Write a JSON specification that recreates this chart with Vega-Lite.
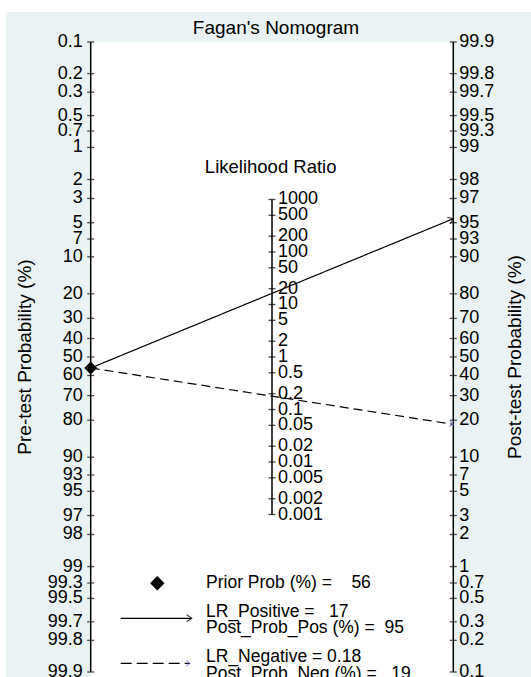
{
  "$schema": "https://vega.github.io/schema/vega-lite/v6.json",
  "width": 525,
  "height": 665,
  "padding": {"left": 6, "top": 12, "right": 0, "bottom": 0},
  "autosize": {"type": "none"},
  "background": "white",
  "config": {
    "view": {"fill": "#eaf2f3", "stroke": null},
    "text": {"font": "Liberation Sans", "color": "black"}
  },
  "datasets": {
    "ticks": [
      {"scale": "pre", "value": 0.1}, {"scale": "pre", "value": 0.2}, {"scale": "pre", "value": 0.3}, {"scale": "pre", "value": 0.5}, {"scale": "pre", "value": 0.7},
      {"scale": "pre", "value": 1}, {"scale": "pre", "value": 2}, {"scale": "pre", "value": 3}, {"scale": "pre", "value": 5}, {"scale": "pre", "value": 7},
      {"scale": "pre", "value": 10}, {"scale": "pre", "value": 20}, {"scale": "pre", "value": 30}, {"scale": "pre", "value": 40}, {"scale": "pre", "value": 50},
      {"scale": "pre", "value": 60}, {"scale": "pre", "value": 70}, {"scale": "pre", "value": 80}, {"scale": "pre", "value": 90}, {"scale": "pre", "value": 93},
      {"scale": "pre", "value": 95}, {"scale": "pre", "value": 97}, {"scale": "pre", "value": 98}, {"scale": "pre", "value": 99}, {"scale": "pre", "value": 99.3},
      {"scale": "pre", "value": 99.5}, {"scale": "pre", "value": 99.7}, {"scale": "pre", "value": 99.8}, {"scale": "pre", "value": 99.9},
      {"scale": "post", "value": 0.1}, {"scale": "post", "value": 0.2}, {"scale": "post", "value": 0.3}, {"scale": "post", "value": 0.5}, {"scale": "post", "value": 0.7},
      {"scale": "post", "value": 1}, {"scale": "post", "value": 2}, {"scale": "post", "value": 3}, {"scale": "post", "value": 5}, {"scale": "post", "value": 7},
      {"scale": "post", "value": 10}, {"scale": "post", "value": 20}, {"scale": "post", "value": 30}, {"scale": "post", "value": 40}, {"scale": "post", "value": 50},
      {"scale": "post", "value": 60}, {"scale": "post", "value": 70}, {"scale": "post", "value": 80}, {"scale": "post", "value": 90}, {"scale": "post", "value": 93},
      {"scale": "post", "value": 95}, {"scale": "post", "value": 97}, {"scale": "post", "value": 98}, {"scale": "post", "value": 99}, {"scale": "post", "value": 99.3},
      {"scale": "post", "value": 99.5}, {"scale": "post", "value": 99.7}, {"scale": "post", "value": 99.8}, {"scale": "post", "value": 99.9},
      {"scale": "LR", "value": 0.001}, {"scale": "LR", "value": 0.002}, {"scale": "LR", "value": 0.005}, {"scale": "LR", "value": 0.01}, {"scale": "LR", "value": 0.02},
      {"scale": "LR", "value": 0.05}, {"scale": "LR", "value": 0.1}, {"scale": "LR", "value": 0.2}, {"scale": "LR", "value": 0.5}, {"scale": "LR", "value": 1},
      {"scale": "LR", "value": 2}, {"scale": "LR", "value": 5}, {"scale": "LR", "value": 10}, {"scale": "LR", "value": 20}, {"scale": "LR", "value": 50},
      {"scale": "LR", "value": 100}, {"scale": "LR", "value": 200}, {"scale": "LR", "value": 500}, {"scale": "LR", "value": 1000}
    ],
    "lines": [
      {"test": "positive", "scale": "pre", "value": 56},
      {"test": "positive", "scale": "post", "value": 95.4},
      {"test": "negative", "scale": "pre", "value": 56},
      {"test": "negative", "scale": "post", "value": 18.6}
    ],
    "legend": [
      {"item": "prior", "text": "Prior Prob (%) =\u00a0\u00a0\u00a0\u00a056"},
      {"item": "pos", "text": "LR_Positive =\u00a0\u00a0\u00a017\nPost_Prob_Pos (%) =\u00a0\u00a095"},
      {"item": "neg", "text": "LR_Negative =\u00a00.18\nPost_Prob_Neg (%) =\u00a0\u00a0\u00a019"}
    ]
  },
  "layer": [
    {
      "data": {"values": [{"region": "plot"}]},
      "mark": {"type": "rect", "fill": "white"},
      "encoding": {
        "x": {"datum": 0, "type": "quantitative", "scale": {"domain": [-0.2336, 1.2143], "nice": false, "zero": false}, "axis": null},
        "x2": {"datum": 1},
        "y": {"datum": 6.9068, "type": "quantitative", "scale": {"domain": [-7.0165, 7.5646], "nice": false, "zero": false}, "axis": null},
        "y2": {"datum": -7.0165}
      }
    },
    {
      "data": {"name": "ticks"},
      "transform": [
        {"calculate": "datum.scale === 'pre' ? 0 : datum.scale === 'post' ? 1 : 0.5", "as": "t"},
        {"calculate": "datum.scale === 'pre' ? log((100 - datum.value) / datum.value) : datum.scale === 'post' ? log(datum.value / (100 - datum.value)) : log(datum.value) / 2", "as": "v"},
        {"aggregate": [{"op": "min", "field": "v", "as": "vmin"}, {"op": "max", "field": "v", "as": "vmax"}], "groupby": ["scale", "t"]}
      ],
      "mark": {"type": "rule", "color": "black", "strokeWidth": 1.5},
      "encoding": {
        "x": {"field": "t", "type": "quantitative", "scale": {"domain": [-0.2336, 1.2143], "nice": false, "zero": false}, "axis": null},
        "y": {"field": "vmin", "type": "quantitative", "scale": {"domain": [-7.0165, 7.5646], "nice": false, "zero": false}, "axis": null},
        "y2": {"field": "vmax"}
      }
    },
    {
      "data": {"name": "ticks"},
      "transform": [
        {"calculate": "datum.scale === 'pre' ? 0 : datum.scale === 'post' ? 1 : 0.5", "as": "t"},
        {"calculate": "datum.scale === 'pre' ? log((100 - datum.value) / datum.value) : datum.scale === 'post' ? log(datum.value / (100 - datum.value)) : log(datum.value) / 2", "as": "v"}
      ],
      "mark": {"type": "tick", "orient": "horizontal", "size": 7, "thickness": 1.3, "color": "black"},
      "encoding": {
        "x": {"field": "t", "type": "quantitative", "scale": {"domain": [-0.2336, 1.2143], "nice": false, "zero": false}, "axis": null},
        "y": {"field": "v", "type": "quantitative", "scale": {"domain": [-7.0165, 7.5646], "nice": false, "zero": false}, "axis": null}
      }
    },
    {
      "data": {"name": "ticks"},
      "transform": [
        {"filter": "datum.scale === 'pre'"},
        {"calculate": "0", "as": "t"},
        {"calculate": "log((100 - datum.value) / datum.value)", "as": "v"}
      ],
      "mark": {"type": "text", "align": "right", "baseline": "middle", "dx": -8, "fontSize": 18},
      "encoding": {
        "x": {"field": "t", "type": "quantitative", "scale": {"domain": [-0.2336, 1.2143], "nice": false, "zero": false}, "axis": null},
        "y": {"field": "v", "type": "quantitative", "scale": {"domain": [-7.0165, 7.5646], "nice": false, "zero": false}, "axis": null},
        "text": {"field": "value", "type": "nominal"}
      }
    },
    {
      "data": {"name": "ticks"},
      "transform": [
        {"filter": "datum.scale !== 'pre'"},
        {"calculate": "datum.scale === 'post' ? 1 : 0.5", "as": "t"},
        {"calculate": "datum.scale === 'post' ? log(datum.value / (100 - datum.value)) : log(datum.value) / 2", "as": "v"}
      ],
      "mark": {"type": "text", "align": "left", "baseline": "middle", "dx": 6, "fontSize": 18},
      "encoding": {
        "x": {"field": "t", "type": "quantitative", "scale": {"domain": [-0.2336, 1.2143], "nice": false, "zero": false}, "axis": null},
        "y": {"field": "v", "type": "quantitative", "scale": {"domain": [-7.0165, 7.5646], "nice": false, "zero": false}, "axis": null},
        "text": {"field": "value", "type": "nominal"}
      }
    },
    {
      "data": {"name": "lines"},
      "transform": [
        {"calculate": "datum.scale === 'pre' ? 0 : 1", "as": "t"},
        {"calculate": "datum.scale === 'pre' ? log((100 - datum.value) / datum.value) : log(datum.value / (100 - datum.value))", "as": "v"}
      ],
      "mark": {"type": "line", "color": "black", "strokeWidth": 1.2},
      "encoding": {
        "x": {"field": "t", "type": "quantitative", "scale": {"domain": [-0.2336, 1.2143], "nice": false, "zero": false}, "axis": null},
        "y": {"field": "v", "type": "quantitative", "scale": {"domain": [-7.0165, 7.5646], "nice": false, "zero": false}, "axis": null},
        "strokeDash": {"field": "test", "type": "nominal", "scale": {"domain": ["positive", "negative"], "range": [[1, 0], [9, 5]]}, "legend": null}
      }
    },
    {
      "data": {"name": "lines"},
      "transform": [
        {"filter": "datum.test === 'positive' && datum.scale === 'post'"},
        {"calculate": "1", "as": "t"},
        {"calculate": "log(datum.value / (100 - datum.value))", "as": "v"}
      ],
      "mark": {"type": "point", "shape": "M-1,-0.7L0,0L-1,0.7", "filled": false, "stroke": "black", "strokeWidth": 1.2, "size": 100, "angle": -22.4},
      "encoding": {
        "x": {"field": "t", "type": "quantitative", "scale": {"domain": [-0.2336, 1.2143], "nice": false, "zero": false}, "axis": null},
        "y": {"field": "v", "type": "quantitative", "scale": {"domain": [-7.0165, 7.5646], "nice": false, "zero": false}, "axis": null}
      }
    },
    {
      "data": {"name": "lines"},
      "transform": [
        {"filter": "datum.test === 'negative' && datum.scale === 'post'"},
        {"calculate": "1", "as": "t"},
        {"calculate": "log(datum.value / (100 - datum.value))", "as": "v"}
      ],
      "mark": {"type": "point", "shape": "M-1,-0.7L0,0L-1,0.7", "filled": false, "stroke": "#7b7bd6", "strokeWidth": 1.2, "size": 64, "angle": 8.8},
      "encoding": {
        "x": {"field": "t", "type": "quantitative", "scale": {"domain": [-0.2336, 1.2143], "nice": false, "zero": false}, "axis": null},
        "y": {"field": "v", "type": "quantitative", "scale": {"domain": [-7.0165, 7.5646], "nice": false, "zero": false}, "axis": null}
      }
    },
    {
      "data": {"name": "lines"},
      "transform": [
        {"filter": "datum.test === 'positive' && datum.scale === 'pre'"},
        {"calculate": "0", "as": "t"},
        {"calculate": "log((100 - datum.value) / datum.value)", "as": "v"}
      ],
      "mark": {"type": "point", "shape": "diamond", "filled": true, "color": "black", "opacity": 1, "size": 170},
      "encoding": {
        "x": {"field": "t", "type": "quantitative", "scale": {"domain": [-0.2336, 1.2143], "nice": false, "zero": false}, "axis": null},
        "y": {"field": "v", "type": "quantitative", "scale": {"domain": [-7.0165, 7.5646], "nice": false, "zero": false}, "axis": null}
      }
    },
    {
      "data": {"values": [{"label": "Fagan's Nomogram"}]},
      "mark": {"type": "text", "align": "center", "baseline": "alphabetic", "fontSize": 19},
      "encoding": {
        "x": {"datum": 0.511, "type": "quantitative", "scale": {"domain": [-0.2336, 1.2143], "nice": false, "zero": false}, "axis": null},
        "y": {"datum": 7.082, "type": "quantitative", "scale": {"domain": [-7.0165, 7.5646], "nice": false, "zero": false}, "axis": null},
        "text": {"field": "label", "type": "nominal"}
      }
    },
    {
      "data": {"values": [{"label": "Likelihood Ratio"}]},
      "mark": {"type": "text", "align": "center", "baseline": "alphabetic", "fontSize": 18.5},
      "encoding": {
        "x": {"datum": 0.4964, "type": "quantitative", "scale": {"domain": [-0.2336, 1.2143], "nice": false, "zero": false}, "axis": null},
        "y": {"datum": 4.034, "type": "quantitative", "scale": {"domain": [-7.0165, 7.5646], "nice": false, "zero": false}, "axis": null},
        "text": {"field": "label", "type": "nominal"}
      }
    },
    {
      "data": {"values": [{"label": "Pre-test Probability (%)"}]},
      "mark": {"type": "text", "align": "center", "baseline": "alphabetic", "angle": 270, "fontSize": 19},
      "encoding": {
        "x": {"datum": -0.1633, "type": "quantitative", "scale": {"domain": [-0.2336, 1.2143], "nice": false, "zero": false}, "axis": null},
        "y": {"datum": 0, "type": "quantitative", "scale": {"domain": [-7.0165, 7.5646], "nice": false, "zero": false}, "axis": null},
        "text": {"field": "label", "type": "nominal"}
      }
    },
    {
      "data": {"values": [{"label": "Post-test Probability (%)"}]},
      "mark": {"type": "text", "align": "center", "baseline": "alphabetic", "angle": 270, "fontSize": 19},
      "encoding": {
        "x": {"datum": 1.1867, "type": "quantitative", "scale": {"domain": [-0.2336, 1.2143], "nice": false, "zero": false}, "axis": null},
        "y": {"datum": 0, "type": "quantitative", "scale": {"domain": [-7.0165, 7.5646], "nice": false, "zero": false}, "axis": null},
        "text": {"field": "label", "type": "nominal"}
      }
    },
    {
      "data": {"values": [{"item": "prior"}]},
      "mark": {"type": "point", "shape": "diamond", "filled": true, "color": "black", "opacity": 1, "size": 210},
      "encoding": {
        "x": {"datum": 0.1837, "type": "quantitative", "scale": {"domain": [-0.2336, 1.2143], "nice": false, "zero": false}, "axis": null},
        "y": {"datum": -4.962, "type": "quantitative", "scale": {"domain": [-7.0165, 7.5646], "nice": false, "zero": false}, "axis": null}
      }
    },
    {
      "data": {"values": [{"item": "pos"}]},
      "mark": {"type": "rule", "color": "black", "strokeWidth": 1.2},
      "encoding": {
        "x": {"datum": 0.0827, "type": "quantitative", "scale": {"domain": [-0.2336, 1.2143], "nice": false, "zero": false}, "axis": null},
        "x2": {"datum": 0.2785},
        "y": {"datum": -5.729, "type": "quantitative", "scale": {"domain": [-7.0165, 7.5646], "nice": false, "zero": false}, "axis": null}
      }
    },
    {
      "data": {"values": [{"item": "pos"}]},
      "mark": {"type": "point", "shape": "M-1,-0.7L0,0L-1,0.7", "filled": false, "stroke": "black", "strokeWidth": 1.2, "size": 100},
      "encoding": {
        "x": {"datum": 0.2785, "type": "quantitative", "scale": {"domain": [-0.2336, 1.2143], "nice": false, "zero": false}, "axis": null},
        "y": {"datum": -5.729, "type": "quantitative", "scale": {"domain": [-7.0165, 7.5646], "nice": false, "zero": false}, "axis": null}
      }
    },
    {
      "data": {"values": [{"item": "neg"}]},
      "mark": {"type": "rule", "color": "black", "strokeWidth": 1.2, "strokeDash": [11, 5]},
      "encoding": {
        "x": {"datum": 0.0827, "type": "quantitative", "scale": {"domain": [-0.2336, 1.2143], "nice": false, "zero": false}, "axis": null},
        "x2": {"datum": 0.2739},
        "y": {"datum": -6.716, "type": "quantitative", "scale": {"domain": [-7.0165, 7.5646], "nice": false, "zero": false}, "axis": null}
      }
    },
    {
      "data": {"values": [{"item": "neg"}]},
      "mark": {"type": "point", "shape": "M-1,-0.7L0,0L-1,0.7", "filled": false, "stroke": "#7b7bd6", "strokeWidth": 1.2, "size": 64},
      "encoding": {
        "x": {"datum": 0.2739, "type": "quantitative", "scale": {"domain": [-0.2336, 1.2143], "nice": false, "zero": false}, "axis": null},
        "y": {"datum": -6.716, "type": "quantitative", "scale": {"domain": [-7.0165, 7.5646], "nice": false, "zero": false}, "axis": null}
      }
    },
    {
      "data": {"name": "legend"},
      "transform": [
        {"calculate": "datum.item === 'prior' ? -5.065 : datum.item === 'pos' ? -5.694 : -6.694", "as": "v"}
      ],
      "mark": {"type": "text", "align": "left", "baseline": "alphabetic", "fontSize": 17.5, "lineBreak": "\n", "lineHeight": 16.6},
      "encoding": {
        "x": {"datum": 0.318, "type": "quantitative", "scale": {"domain": [-0.2336, 1.2143], "nice": false, "zero": false}, "axis": null},
        "y": {"field": "v", "type": "quantitative", "scale": {"domain": [-7.0165, 7.5646], "nice": false, "zero": false}, "axis": null},
        "text": {"field": "text", "type": "nominal"}
      }
    }
  ]
}
